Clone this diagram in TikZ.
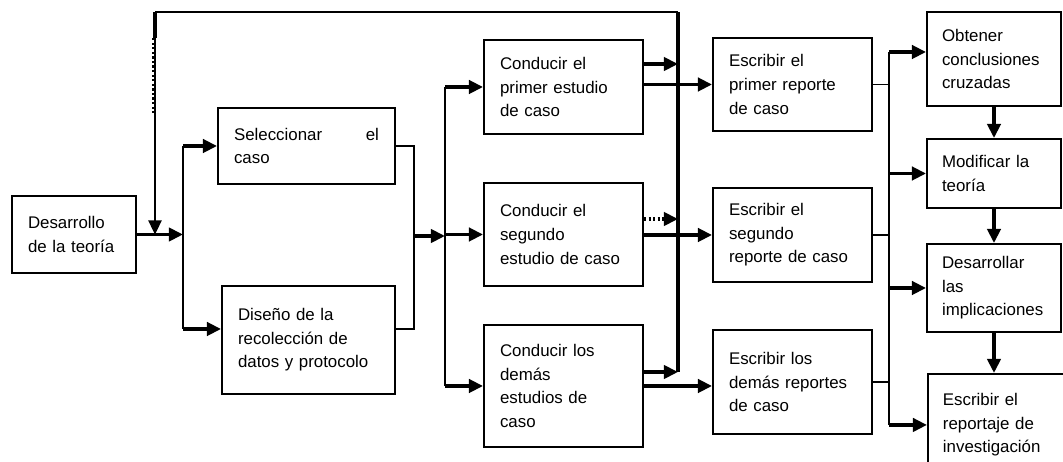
\documentclass[tikz,border=0pt]{standalone}
\usepackage{fontspec}
\setmainfont{Liberation Sans}
\usetikzlibrary{arrows.meta, positioning, calc}

\begin{document}
\begin{tikzpicture}[x=0.02cm, y=-0.02cm,
  font=\fontsize{9.6}{13.4}\selectfont,
  box/.style={draw, line width=1.1pt, align=left, inner xsep=0.32cm, inner ysep=0pt},
  arr/.style={line width=2.1pt, -{Triangle[length=8pt,width=7.5pt]}},
  conn/.style={line width=0.9pt}]

  \useasboundingbox (0,0) rectangle (1063,462);
  \clip (0,0) rectangle (1063,462);

  \node[box, text width=1.84cm, minimum height=1.54cm] (teoria) at (74,234.5) {Desarrollo\\de la teoría};
  \node[box, text width=2.90cm, minimum height=1.52cm] (sel) at (306.5,146) {Seleccionar\hspace*{\fill}el\\caso};
  \node[box, text width=2.82cm, minimum height=2.16cm] (dis) at (308.5,340) {Diseño de la\\recolección de\\datos y protocolo};

  \node[box, text width=2.54cm, minimum height=1.88cm] (c1) at (563.5,87) {Conducir el\\primer estudio\\de caso};
  \node[box, text width=2.54cm, minimum height=2.06cm] (c2) at (563.5,234.5) {Conducir el\\segundo\\estudio de caso};
  \node[box, text width=2.54cm, minimum height=2.44cm] (c3) at (563.5,386) {Conducir los\\demás\\estudios de\\caso};

  \node[box, text width=2.54cm, minimum height=1.86cm] (e1) at (792.5,84.5) {Escribir el\\primer reporte\\de caso};
  \node[box, text width=2.54cm, minimum height=1.88cm] (e2) at (792.5,235) {Escribir el\\segundo\\reporte de caso};
  \node[box, text width=2.54cm, minimum height=2.08cm] (e3) at (792.5,382) {Escribir los\\demás reportes\\de caso};

  \node[box, inner xsep=0.3cm, text width=2.08cm, minimum height=1.88cm] (o1) at (994,59) {Obtener\\conclusiones\\cruzadas};
  \node[box, inner xsep=0.3cm, text width=2.08cm, minimum height=1.38cm] (o2) at (994,173.5) {Modificar la\\teoría};
  \node[box, inner xsep=0.3cm, text width=2.08cm, minimum height=1.76cm] (o3) at (994,288) {Desarrollar\\las\\implicaciones};
  \node[box, inner xsep=0.3cm, text width=2.22cm, minimum height=2.04cm, anchor=north west] (o4) at (927,373) {Escribir el\\reportaje de\\investigación};

  \coordinate (b1) at (183,236);
  \coordinate (b2) at (414,236);
  \coordinate (b3) at (445,236);
  \coordinate (b5) at (889,236);
  \coordinate (fbl) at (155,12);
  \coordinate (fbr) at (678,12);
  \coordinate (disin) at ($(dis.west)+(0,-11)$);
  \coordinate (disout) at ($(dis.east)+(0,-11)$);
  \coordinate (cu1) at ($(c1.east)+(0,-23)$);
  \coordinate (cu2) at ($(c2.east)+(0,-15.5)$);
  \coordinate (cu3) at ($(c3.east)+(0,-14)$);
  \coordinate (o1in) at ($(o1.west)+(0,-7)$);

  % teoria -> seleccion / diseno
  \draw[arr] (teoria.east) -- (teoria.east -| b1);
  \draw[conn] (b1 |- sel.west) -- (b1 |- disin);
  \draw[arr] (b1 |- sel.west) -- (sel.west);
  \draw[arr] (b1 |- disin) -- (disin);

  % retroalimentacion
  \draw[arr, line width=1.1pt] (fbl) -- (fbl |- teoria.east);
  \draw[line width=2.1pt] (fbl) -- ++(0,26);
  \draw[line width=2pt, dash pattern=on 1.3pt off 1.3pt] ($(fbl)+(-1.5,26)$) -- ++(0,75);
  \draw[line width=1.4pt] (fbl) -- (fbr);
  \draw[line width=2.1pt] (fbr) -- (fbr |- cu3);

  % seleccion / diseno -> estudios
  \draw[conn] (sel.east) -- (sel.east -| b2) -- (b2 |- disout) -- (disout);
  \draw[arr] (b2) -- (b3);
  \draw[conn] (b3 |- c1.west) -- (b3 |- c3.west);
  \foreach \n in {c1,c2,c3}
    \draw[arr] (b3 |- \n.west) -- (\n.west);

  % estudios -> reportes
  \draw[arr] (cu1) -- (cu1 -| fbr);
  \draw[arr, dash pattern=on 1.3pt off 1.3pt] (cu2) -- (cu2 -| fbr);
  \draw[arr] (cu3) -- (cu3 -| fbr);
  \draw[arr] (e1.west -| c1.east) -- (e1.west);
  \draw[arr] (e2.west -| c2.east) -- (e2.west);
  \draw[arr] (c3.east) -- (c3.east -| e3.west);

  % reportes -> conclusiones
  \foreach \n in {e1,e2,e3}
    \draw[conn] (\n.east) -- (\n.east -| b5);
  \draw[conn] (b5 |- o1in) -- (b5 |- o4.west);
  \draw[arr] (b5 |- o1in) -- (o1in);
  \foreach \n in {o2,o3,o4}
    \draw[arr] (b5 |- \n.west) -- (\n.west);
  \draw[arr] (o1) -- (o2);
  \draw[arr] (o2) -- (o3);
  \draw[arr] (o3.south) -- (o3.south |- o4.north);
\end{tikzpicture}
\end{document}
